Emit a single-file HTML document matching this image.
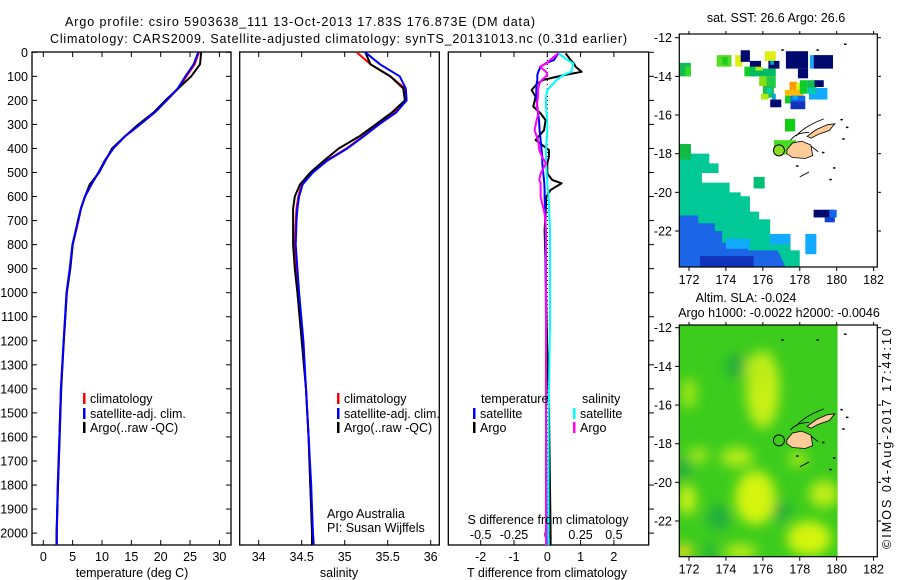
<!DOCTYPE html>
<html><head><meta charset="utf-8">
<style>
html,body{margin:0;padding:0;background:#fff;}
svg{display:block;font-family:"Liberation Sans",sans-serif;}
text{fill:#000;font-size:12.5px;}
</style></head>
<body>
<svg id="fig" width="900" height="580" viewBox="0 0 900 580">
<defs>
<filter id="blur" x="-50%" y="-50%" width="200%" height="200%"><feGaussianBlur stdDeviation="6"/></filter>
<clipPath id="clipSst"><rect x="679.3" y="34" width="198" height="233"/></clipPath>
<clipPath id="clipSla"><rect x="679.3" y="325" width="158.4" height="231.7"/></clipPath>
</defs>
<text x="65" y="26" textLength="470">Argo profile: csiro 5903638_111 13-Oct-2013 17.83S 176.873E (DM data)</text>
<text x="50" y="43" textLength="577">Climatology: CARS2009. Satellite-adjusted climatology: synTS_20131013.nc (0.31d earlier)</text>
<g id="g1"></g>
<g id="g2"></g>
<g id="g3"></g>
<g id="g4"></g>
<g id="g5"></g>
<text x="891" y="549" transform="rotate(-90 891 549)" textLength="220">©IMOS 04-Aug-2017 17:44:10</text>
</svg>
<script>
// ---- profile data ----
const depths = [0,50,100,150,200,250,300,350,400,450,500,550,600,650,700,800,900,1000,1200,1400,1600,1800,2000,2050];
const tempClim = [26.5,25.8,24.4,23.0,21.0,19.0,16.5,13.9,11.9,10.5,9.4,8.2,7.1,6.4,6.0,5.0,4.55,4.0,3.5,3.0,2.75,2.5,2.3,2.3];
const tempSat = [26.4,25.6,24.2,22.9,21.0,19.0,16.5,13.9,11.9,10.5,9.4,8.2,7.1,6.4,5.95,4.95,4.5,3.95,3.45,3.0,2.75,2.45,2.3,2.3];
const tempArgo = [26.9,26.7,25.2,23.0,20.8,18.8,16.2,13.9,11.7,10.6,9.5,7.9,7.1,6.4,5.9,5.0,4.6,4.0,3.5,3.05,2.8,2.5,2.25,2.25];
const salClim = [35.14,35.30,35.53,35.70,35.72,35.58,35.39,35.21,35.02,34.79,34.62,34.50,34.46,34.44,34.43,34.42,34.44,34.46,34.51,34.55,34.58,34.60,34.63,34.64];
const salSat = [35.24,35.41,35.64,35.71,35.72,35.60,35.40,35.22,35.03,34.80,34.63,34.51,34.47,34.45,34.44,34.43,34.45,34.47,34.52,34.55,34.58,34.61,34.63,34.64];
const salArgo = [35.24,35.30,35.53,35.68,35.70,35.55,35.36,35.17,34.93,34.76,34.60,34.48,34.42,34.40,34.40,34.40,34.42,34.45,34.50,34.55,34.58,34.60,34.62,34.62];
const diffDepths = [4,32,46,60,81,95,115,130,157,185,226,254,282,324,365,407,434,462,504,531,545,573,601,670,739,878,1128,1500,2000,2050];
const tDiffSat = [0.33,0.2,-0.05,-0.2,-0.27,-0.3,-0.3,-0.32,-0.33,-0.33,-0.3,-0.28,-0.25,-0.23,-0.2,-0.17,-0.15,-0.15,-0.12,-0.1,-0.09,-0.08,-0.08,-0.06,-0.05,-0.05,-0.04,-0.04,-0.03,-0.03];
const tDiffArgo = [0.55,0.7,0.8,0.85,1.03,0.5,-0.12,-0.3,-0.47,-0.35,-0.42,-0.2,-0.05,-0.1,-0.35,0.05,0.05,0.0,0.0,0.15,0.43,0.1,-0.03,-0.05,-0.08,-0.05,-0.02,0.05,0.1,0.1];
const sDiffSat = [0.083,0.15,0.195,0.19,0.18,0.12,0.07,0.045,0.0,-0.01,-0.01,-0.005,0.0,0.0,-0.005,-0.01,-0.01,-0.01,-0.005,0.0,0.0,0.005,0.01,0.015,0.02,0.02,0.02,0.01,0.008,0.008];
const sDiffArgo = [0.083,0.02,-0.005,-0.055,-0.01,0.0,-0.04,-0.06,-0.07,-0.07,-0.08,-0.065,-0.08,-0.095,-0.07,-0.06,-0.04,-0.01,-0.05,-0.06,-0.05,-0.05,-0.05,-0.02,-0.01,-0.01,-0.01,-0.01,-0.01,-0.01];
const depthTicks = [0,100,200,300,400,500,600,700,800,900,1000,1100,1200,1300,1400,1500,1600,1700,1800,1900,2000];
const tempTicks = [0,5,10,15,20,25,30];
const salTicks = [34,34.5,35,35.5,36];
const salTickLabels = ["34","34.5","35","35.5","36"];
const tDiffTicks = [-2,-1,0,1,2];
const sDiffTicks = [-0.5,-0.25,0,0.25,0.5];
const sDiffTickLabels = ["-0.5","-0.25","0","0.25","0.5"];
// ---- map data ----
const lonTicks = [172,174,176,178,180,182];
const latTicks = [-12,-14,-16,-18,-20,-22];
// SST blocks: lon0, lon1, latTop, latBottom, colour
const sstBlocks = [
 [171.47,172.1,-13.3,-14.0,"#11bb55"],[171.8,172.1,-13.5,-14.0,"#33dd22"],
 [173.5,174.3,-12.9,-13.5,"#55dd22"],[173.8,174.1,-13.0,-13.4,"#22cc22"],
 [174.5,174.9,-12.9,-13.5,"#ddf011"],[174.8,175.3,-12.65,-13.25,"#000a6e"],
 [175.3,175.9,-13.2,-13.6,"#000a6e"],[176.1,176.7,-12.7,-13.2,"#ddf011"],
 [176.3,176.9,-13.2,-13.6,"#000a6e"],[176.4,176.6,-13.2,-13.4,"#00aacc"],
 [177.25,178.45,-12.7,-13.6,"#000a6e"],[177.9,178.45,-13.6,-14.1,"#000a6e"],
 [178.75,179.8,-12.9,-13.6,"#000a6e"],[178.55,178.75,-12.9,-13.6,"#11aaff"],
 [175.0,175.6,-13.5,-14.0,"#11cc22"],[175.3,176.7,-13.6,-14.0,"#00bb66"],
 [175.6,176.0,-13.5,-13.7,"#aaee11"],[175.8,176.4,-14.0,-14.5,"#88dd11"],
 [176.2,176.7,-14.0,-14.6,"#22cc44"],[176.0,176.6,-14.5,-15.1,"#22bb44"],
 [176.2,176.5,-14.6,-14.9,"#00ccaa"],[175.9,176.3,-14.9,-15.2,"#aaee11"],
 [176.4,177.0,-15.2,-15.6,"#000a6e"],[176.5,176.7,-14.9,-15.2,"#00aacc"],
 [177.45,177.85,-14.28,-14.7,"#ff9900"],[177.2,178.2,-14.7,-15.0,"#ffbb00"],
 [177.8,178.0,-14.35,-14.7,"#ddf011"],[178.0,178.4,-14.2,-14.9,"#11cc22"],
 [178.4,178.9,-14.2,-14.6,"#11bb55"],[178.8,179.3,-14.2,-14.55,"#000a6e"],
 [178.5,179.5,-14.6,-15.2,"#11aaff"],[178.4,178.9,-14.6,-14.9,"#00ccaa"],
 [177.2,177.5,-15.0,-15.4,"#11cc22"],[177.5,178.3,-15.0,-15.3,"#1166ee"],
 [177.5,178.3,-15.3,-15.7,"#1133bb"],[177.6,177.9,-15.0,-15.2,"#00aaee"],
 [177.2,177.75,-16.2,-16.85,"#11cc11"],
 [176.6,177.8,-17.3,-17.9,"#44dd22"],[176.6,177.3,-17.6,-18.05,"#66dd22"],
 [175.5,176.1,-19.2,-19.8,"#00c078"],
 [178.75,179.8,-20.9,-21.3,"#000a6e"],[179.6,180.0,-20.9,-21.3,"#1166ee"],
 [179.35,179.9,-21.3,-21.55,"#1144cc"],
 [178.3,178.9,-22.15,-23.2,"#11aaff"],[176.4,177.5,-22.15,-22.7,"#11aaff"]
];
// teal area right edge (lon) per lat band
const tealBandsLat = [-17.5,-18.0,-18.5,-19.0,-19.5,-20.0,-20.2,-20.6,-21.0,-21.4,-22.2,-22.6,-23.0];
const tealBandsLon = [172.1,173.1,173.6,172.7,174.2,174.8,175.3,175.3,175.8,176.4,176.7,177.5,178.0];
// blue area right edge (lon) per lat band
const blueBandsLat = [-21.2,-21.6,-22.0,-22.6,-23.0];
const blueBandsLon = [172.5,173.4,173.8,175.2,176.8];
const blueBandsLon2 = [172.5,173.4,173.8,175.2,177.3];
// SLA blobs: lon, lat, rx(deg), ry(deg), colour
const slaBlobs = [
 [176.0,-15.2,0.9,2.0,"#c8f014"],[175.6,-14.2,0.6,0.8,"#b8ec14"],
 [174.6,-18.7,0.9,0.5,"#b8ec14"],[175.6,-20.8,1.1,1.4,"#d4f410"],
 [178.5,-22.9,1.2,0.9,"#d4f410"],[179.3,-20.6,0.8,0.7,"#c0ee14"],
 [171.9,-20.9,0.5,0.8,"#c8f014"],[171.7,-23.6,0.5,0.4,"#eedd22"],
 [174.8,-23.6,0.9,0.4,"#c0ee14"],[172.0,-15.4,0.4,0.8,"#a8e818"],
 [177.9,-18.8,0.5,0.4,"#a8e818"],[172.5,-18.6,0.6,0.4,"#a0e61a"]
];
const slaDark = [[174.6,-14.0,0.6,0.6],[173.2,-23.6,0.4,0.3],[171.7,-19.3,0.4,0.6],[177.0,-21.5,0.5,0.5],[173.6,-21.8,0.6,0.6]];
const profileLon = 176.873, profileLat = -17.83;

// ---- helpers ----
const NS="http://www.w3.org/2000/svg";
function mk(parent, tag, attrs, txt){const e=document.createElementNS(NS,tag);for(const k in attrs)e.setAttribute(k,attrs[k]);if(txt!==undefined)e.textContent=txt;parent.appendChild(e);return e;}
const yD = d => 52.3 + d*0.2404;
const PT=52, PB=545;

function frame(g,x0,x1,name){
  const r=mk(g,'rect',{x:x0,y:PT,width:x1-x0,height:PB-PT,fill:'none',stroke:'#000','stroke-width':1.3});
  
  
}
function line(g,xs,ds,xf,col,name,w){
  const pts=xs.map((v,i)=>xf(v).toFixed(1)+','+yD(ds[i]).toFixed(1)).join(' ');
  const p=mk(g,'polyline',{points:pts,fill:'none',stroke:col,'stroke-width':w||2,'stroke-linejoin':'round'});
  
  
}
function legend(g,x,y,col,label,name){
  const r=mk(g,'rect',{x:x,y:y-10,width:2.5,height:11,fill:col});
  
  
  const t=mk(g,'text',{x:x+7,y:y},label);
  
  
}
function xTicks(g,vals,labels,xf,name,labY){
  vals.forEach((v,i)=>{
    const x=xf(v);
    mk(g,'line',{x1:x,x2:x,y1:PB,y2:PB-5,stroke:'#000'});
    mk(g,'line',{x1:x,x2:x,y1:PT,y2:PT+5,stroke:'#000'});
    const t=mk(g,'text',{x:x,y:labY||561,'text-anchor':'middle'},labels[i]);
    
    
  });
}

// ---- panel 1: temperature ----
const g1=document.getElementById('g1');
const xT=v=>43.3+v*5.87;
frame(g1,32,231,'temperature-plot-frame');
depthTicks.forEach(d=>{
  const y=yD(d);
  mk(g1,'line',{x1:32,x2:37,y1:y,y2:y,stroke:'#000'});
  mk(g1,'line',{x1:226,x2:231,y1:y,y2:y,stroke:'#000'});
  const t=mk(g1,'text',{x:28,y:y+4.5,'text-anchor':'end'},String(d));
  
  
});
xTicks(g1,tempTicks,tempTicks.map(String),xT,'temperature-tick-label');
line(g1,tempClim,depths,xT,'#ff0000','temperature-climatology-line');
line(g1,tempArgo,depths,xT,'#000000','temperature-argo-line');
line(g1,tempSat,depths,xT,'#0000ff','temperature-satellite-line');
legend(g1,83,403,'#ff0000','climatology','legend-climatology');
legend(g1,83,418,'#0000ff','satellite-adj. clim.','legend-satellite-adj');
legend(g1,83,432,'#000000','Argo(..raw -QC)','legend-argo');
{const t=mk(g1,'text',{x:132,y:577,'text-anchor':'middle'},'temperature (deg C)');}

// ---- panel 2: salinity ----
const g2=document.getElementById('g2');
const xS=v=>258.7+(v-34)*86;
frame(g2,239.7,439.3,'salinity-plot-frame');
xTicks(g2,salTicks,salTickLabels,xS,'salinity-tick-label');
line(g2,salClim,depths,xS,'#ff0000','salinity-climatology-line');
line(g2,salArgo,depths,xS,'#000000','salinity-argo-line');
line(g2,salSat,depths,xS,'#0000ff','salinity-satellite-line');
legend(g2,337,403,'#ff0000','climatology','legend-climatology-sal');
legend(g2,337,418,'#0000ff','satellite-adj. clim.','legend-satellite-adj-sal');
legend(g2,337,432,'#000000','Argo(..raw -QC)','legend-argo-sal');
{let t=mk(g2,'text',{x:327,y:518},'Argo Australia');
 t=mk(g2,'text',{x:327,y:532},'PI: Susan Wijffels');
 t=mk(g2,'text',{x:339,y:577,'text-anchor':'middle'},'salinity');}

// ---- panel 3: differences ----
const g3=document.getElementById('g3');
const xDT=v=>547.3+v*33.3;
const xDS=v=>547.3+v*4*33.3;
frame(g3,448.3,648.7,'difference-plot-frame');
depthTicks.forEach(d=>{const y=yD(d);mk(g3,'line',{x1:648.7,x2:654,y1:y,y2:y,stroke:'#000'});});
xTicks(g3,tDiffTicks,tDiffTicks.map(String),xDT,'t-difference-tick-label');
sDiffTicks.forEach((v,i)=>{const t=mk(g3,'text',{x:xDS(v),y:539,'text-anchor':'middle'},sDiffTickLabels[i]);});
mk(g3,'line',{x1:xDT(0),x2:xDT(0),y1:PT,y2:PB,stroke:'#000','stroke-dasharray':'1,3'});
line(g3,tDiffArgo,diffDepths,xDT,'#000000','t-diff-argo-line');
line(g3,tDiffSat,diffDepths,xDT,'#0000ff','t-diff-satellite-line');
line(g3,sDiffSat,diffDepths,xDS,'#00ffff','s-diff-satellite-line');
line(g3,sDiffArgo,diffDepths,xDS,'#ff00ff','s-diff-argo-line');
{let t=mk(g3,'text',{x:481,y:403},'temperature');
 t=mk(g3,'text',{x:582,y:403},'salinity');}
legend(g3,473,418,'#0000ff','satellite','legend-t-satellite');
legend(g3,473,432,'#000000','Argo','legend-t-argo');
legend(g3,573,418,'#00ffff','satellite','legend-s-satellite');
legend(g3,573,432,'#ff00ff','Argo','legend-s-argo');
{let t=mk(g3,'text',{x:548,y:524,'text-anchor':'middle'},'S difference from climatology');
 t=mk(g3,'text',{x:547,y:577,'text-anchor':'middle'},'T difference from climatology');}

// ---- maps ----
const mx=lon=>689+(lon-172)*18.46;
function mapAxes(g,top,bot,y0,name){
  const my=lat=>y0+(-12-lat)*19.33;
  const r=mk(g,'rect',{x:679.3,y:top,width:198,height:bot-top,fill:'none',stroke:'#000','stroke-width':1.2});
  
  
  lonTicks.forEach(l=>{const x=mx(l);mk(g,'line',{x1:x,x2:x,y1:bot,y2:bot+4,stroke:'#000'});mk(g,'line',{x1:x,x2:x,y1:top,y2:top-3,stroke:'#000'});
    const t=mk(g,'text',{x:x,y:bot+17,'text-anchor':'middle'},String(l));});
  latTicks.forEach(l=>{const y=my(l);mk(g,'line',{x1:675,x2:679.3,y1:y,y2:y,stroke:'#000'});mk(g,'line',{x1:877.3,x2:881,y1:y,y2:y,stroke:'#000'});
    const t=mk(g,'text',{x:672,y:y+4.5,'text-anchor':'end'},String(l));});
  return my;
}
function islands(g,my){
  // Vanua Levu
  const vl=mk(g,'path',{d:`M${mx(178.4)},${my(-17.1)} L${mx(178.9)},${my(-16.75)} L${mx(179.5)},${my(-16.5)} L${mx(179.9)},${my(-16.45)} L${mx(179.6)},${my(-16.8)} L${mx(179.0)},${my(-17.0)} L${mx(178.6)},${my(-17.2)} Z`,fill:'#ffcc99',stroke:'#000','stroke-width':0.8});
  
  
  const vv=mk(g,'path',{d:`M${mx(177.3)},${my(-17.8)} L${mx(177.6)},${my(-17.45)} L${mx(178.1)},${my(-17.35)} L${mx(178.6)},${my(-17.55)} L${mx(178.7)},${my(-18.1)} L${mx(178.3)},${my(-18.25)} L${mx(177.6)},${my(-18.2)} L${mx(177.3)},${my(-18.0)} Z`,fill:'#ffcc99',stroke:'#000','stroke-width':0.8});
  
  
  mk(g,'path',{d:`M${mx(177.8)},${my(-17.1)} Q${mx(178.2)},${my(-16.6)} ${mx(179.3)},${my(-16.2)} M${mx(177.5)},${my(-17.3)} Q${mx(177.8)},${my(-16.9)} ${mx(178.5)},${my(-16.9)} M${mx(178.6)},${my(-17.6)} L${mx(179.0)},${my(-17.9)} M${mx(178.0)},${my(-19.2)} L${mx(178.5)},${my(-18.95)}`,fill:'none',stroke:'#000','stroke-width':0.9});
  [[177.0,-12.6],[178.9,-12.6],[180.4,-12.3],[180.2,-16.2],[180.5,-16.6],[180.3,-17.2],[179.2,-17.9],[179.8,-18.7],[179.6,-19.3],[177.8,-18.6]].forEach(p=>mk(g,'rect',{x:mx(p[0]),y:my(p[1]),width:2.5,height:1.5,fill:'#000'}));
  const c=mk(g,'circle',{cx:mx(profileLon),cy:my(profileLat),r:5.5,fill:'none',stroke:'#000','stroke-width':1});
  
  
}
// SST map
const g4=document.getElementById('g4');
{const t=mk(g4,'text',{x:776,y:22,'text-anchor':'middle'},'sat. SST: 26.6 Argo: 26.6');}
const myS=lat=>37.7+(-12-lat)*19.33;
const sstLayer=mk(g4,'g',{'clip-path':'url(#clipSst)'});
{
  let pts=[[171.3,myS(tealBandsLat[0])]];
  tealBandsLat.forEach((la,i)=>{const next=i+1<tealBandsLat.length?tealBandsLat[i+1]:-24;pts.push([tealBandsLon[i],myS(la)]);pts.push([tealBandsLon[i],myS(next)]);});
  pts.push([171.3,myS(-24)]);
  const p=mk(sstLayer,'polygon',{points:pts.map(q=>(q[0]===171.3?679.3:mx(q[0]))+','+q[1]).join(' '),fill:'#00c896'});
  
  
  let b=[[679.3,myS(blueBandsLat[0])]];
  blueBandsLat.forEach((la,i)=>{const next=i+1<blueBandsLat.length?blueBandsLat[i+1]:-24;b.push([mx(blueBandsLon[i]),myS(la)]);b.push([mx(blueBandsLon2[i]),myS(next)]);});
  b.push([679.3,myS(-24)]);
  const pb=mk(sstLayer,'polygon',{points:b.map(q=>q.join(',')).join(' '),fill:'#1a66e6'});
  
  
  mk(sstLayer,'rect',{x:mx(172.6),y:myS(-23.3),width:mx(175.5)-mx(172.6),height:myS(-24)-myS(-23.3),fill:'#1133bb'});
  mk(sstLayer,'rect',{x:mx(174.0),y:myS(-22.4),width:mx(175.3)-mx(174.0),height:10,fill:'#11aaff'});
  mk(sstLayer,'rect',{x:mx(171.5),y:myS(-17.5),width:mx(172.1)-mx(171.5),height:myS(-18.3)-myS(-17.5),fill:'#11bb44'});
}
sstBlocks.forEach(b=>{
  const r=mk(sstLayer,'rect',{x:mx(b[0]),y:myS(b[2]),width:mx(b[1])-mx(b[0]),height:myS(b[3])-myS(b[2]),fill:b[4]});
  
  
});
mk(sstLayer,'circle',{cx:mx(profileLon),cy:myS(profileLat),r:5,fill:'#88dd22'});
islands(sstLayer,myS);
mapAxes(g4,34,267,37.7,'sst-map');

// SLA map
const g5=document.getElementById('g5');
{let t=mk(g5,'text',{x:746,y:302,'text-anchor':'middle'},'Altim. SLA: -0.024');
 t=mk(g5,'text',{x:779,y:317,'text-anchor':'middle'},'Argo h1000: -0.0022 h2000: -0.0046');}
const myA=lat=>327.7+(-12-lat)*19.33;
const slaLayer=mk(g5,'g',{'clip-path':'url(#clipSla)'});
{
  const bg=mk(slaLayer,'rect',{x:679.3,y:325,width:158.4,height:231.7,fill:'#3ccc1e'});
  
  
  const bl=mk(slaLayer,'g',{filter:'url(#blur)'});
  slaDark.forEach(b=>mk(bl,'ellipse',{cx:mx(b[0]),cy:myA(b[1]),rx:b[2]*18.46,ry:b[3]*19.33,fill:'#1eaa40'}));
  slaBlobs.forEach(b=>{
    const e=mk(bl,'ellipse',{cx:mx(b[0]),cy:myA(b[1]),rx:b[2]*18.46,ry:b[3]*19.33,fill:b[4]});
    
    
  });
}
islands(g5,myA);
mapAxes(g5,325,556.7,327.7,'sla-map');
</script>
</body></html>
